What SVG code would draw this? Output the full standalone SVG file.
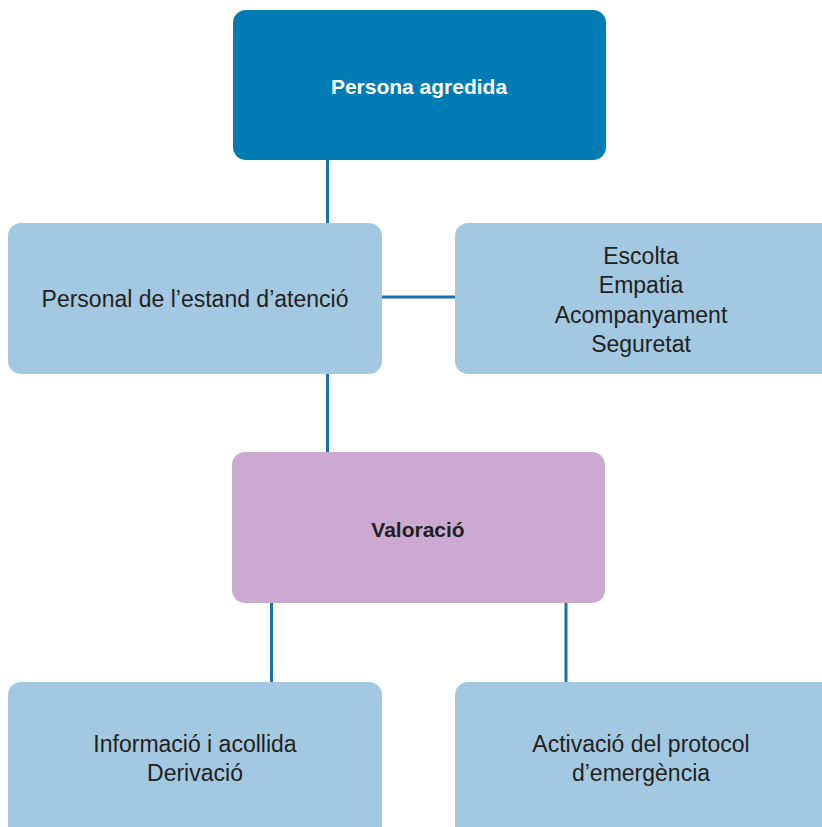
<svg xmlns="http://www.w3.org/2000/svg" width="822" height="827" viewBox="0 0 822 827">
<style>
.box{fill:#A3C9E2}
.top{fill:#007BB3}
.val{fill:#CCA9D1}
.t{font-family:"Liberation Sans",Arial,sans-serif;font-size:23px;fill:#231F20;text-anchor:middle}
.b{font-weight:bold;font-size:21px}
.w{fill:#FFFFFF}
.c{stroke:#1A72AD;stroke-width:3;fill:none}
</style>
<rect width="822" height="827" fill="#FFFFFF"/>
<g id="connectors">
<line class="c" x1="327.5" y1="160" x2="327.5" y2="224"/>
<line class="c" x1="381" y1="297" x2="456" y2="297"/>
<line class="c" x1="327.5" y1="373" x2="327.5" y2="453"/>
<line class="c" x1="271.5" y1="602" x2="271.5" y2="683"/>
<line class="c" x1="566" y1="602" x2="566" y2="683"/>
</g>
<g id="persona-agredida">
<rect class="top" x="233" y="10" width="373" height="150" rx="13"/>
<text class="t b w" x="419" y="94">Persona agredida</text>
</g>
<g id="personal">
<rect class="box" x="8" y="223" width="374" height="151" rx="13"/>
<text class="t" x="195" y="307">Personal de l’estand d’atenció</text>
</g>
<g id="escolta">
<rect class="box" x="455" y="223" width="380" height="151" rx="13"/>
<text class="t" x="641" y="264">Escolta</text>
<text class="t" x="641" y="293">Empatia</text>
<text class="t" x="641" y="323">Acompanyament</text>
<text class="t" x="641" y="352">Seguretat</text>
</g>
<g id="valoracio">
<rect class="val" x="232" y="452" width="373" height="151" rx="13"/>
<text class="t b" x="418" y="537">Valoració</text>
</g>
<g id="informacio">
<rect class="box" x="8" y="682" width="374" height="160" rx="13"/>
<text class="t" x="195" y="752">Informació i acollida</text>
<text class="t" x="195" y="781">Derivació</text>
</g>
<g id="activacio">
<rect class="box" x="455" y="682" width="380" height="160" rx="13"/>
<text class="t" x="641" y="752">Activació del protocol</text>
<text class="t" x="641" y="781">d’emergència</text>
</g>
</svg>
